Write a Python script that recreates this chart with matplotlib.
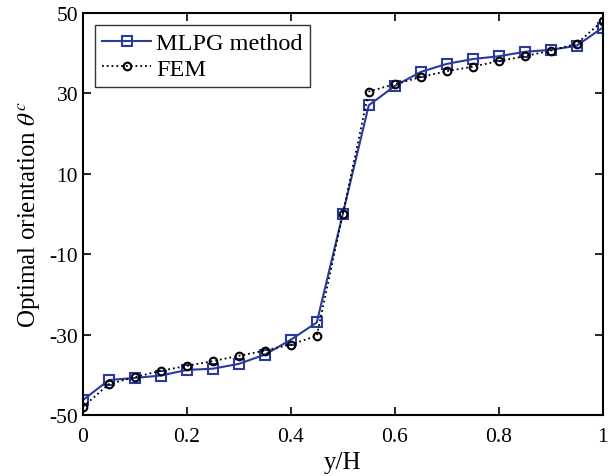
import numpy as np
import matplotlib
matplotlib.use('Agg')
import matplotlib.pyplot as plt

plt.rcParams['font.family'] = 'Liberation Serif'
plt.rcParams['mathtext.fontset'] = 'stix'
plt.rcParams['axes.unicode_minus'] = False

# y/H positions
y_h = [0, 0.05, 0.1, 0.15, 0.2, 0.25, 0.3, 0.35, 0.4, 0.45, 0.5,
       0.55, 0.6, 0.65, 0.7, 0.75, 0.8, 0.85, 0.9, 0.95, 1.0]

# optimal orientation values
mlpg = [-46.3, -41.3, -40.8, -40.2, -38.8, -38.5, -37.3, -35.0, -31.3, -27.0, 0.0,
        27.0, 31.8, 35.3, 37.3, 38.5, 39.2, 40.3, 40.8, 41.8, 46.3]
fem = [-48.0, -42.3, -40.6, -39.0, -37.8, -36.6, -35.3, -34.0, -32.5, -30.3, 0.0,
       30.4, 32.3, 34.0, 35.5, 36.6, 38.0, 39.2, 40.6, 42.3, 48.0]

xticks = [0, 0.2, 0.4, 0.6, 0.8, 1]
yticks = [-50, -30, -10, 10, 30, 50]

fig = plt.figure(figsize=(6.12, 4.77), dpi=100)
ax = fig.add_axes([0.1356, 0.128, 0.849, 0.843])

ax.plot(y_h, mlpg, '-s', color='#2a3a9c', linewidth=1.5, markersize=7,
        markerfacecolor='none', markeredgewidth=1.5, label='MLPG method')
ax.plot(y_h, fem, ':o', color='black', linewidth=1.3, markersize=5.5,
        markerfacecolor='none', markeredgewidth=1.5, label='FEM')

ax.set_xlim(0, 1)
ax.set_ylim(-50, 50)
ax.set_xticks(xticks)
ax.set_xticklabels(['0', '0.2', '0.4', '0.6', '0.8', '1'])
ax.set_yticks(yticks)
ax.tick_params(direction='in', top=True, right=True, labelsize=15.5, length=6, width=1.2)
ax.tick_params(axis='x', pad=9)
for s in ax.spines.values():
    s.set_linewidth(1.5)

ax.set_xlabel('y/H', fontsize=18, labelpad=3)
ax.set_ylabel('Optimal orientation $\\theta^c$', fontsize=18, labelpad=5)

leg = ax.legend(loc='upper left', fontsize=17.5, frameon=True, fancybox=False,
                edgecolor='black', handlelength=2.0, borderpad=0.3,
                labelspacing=0.15, handletextpad=0.2, borderaxespad=0.5)
leg.get_frame().set_linewidth(1.0)

fig.savefig('out.png', dpi=100)
